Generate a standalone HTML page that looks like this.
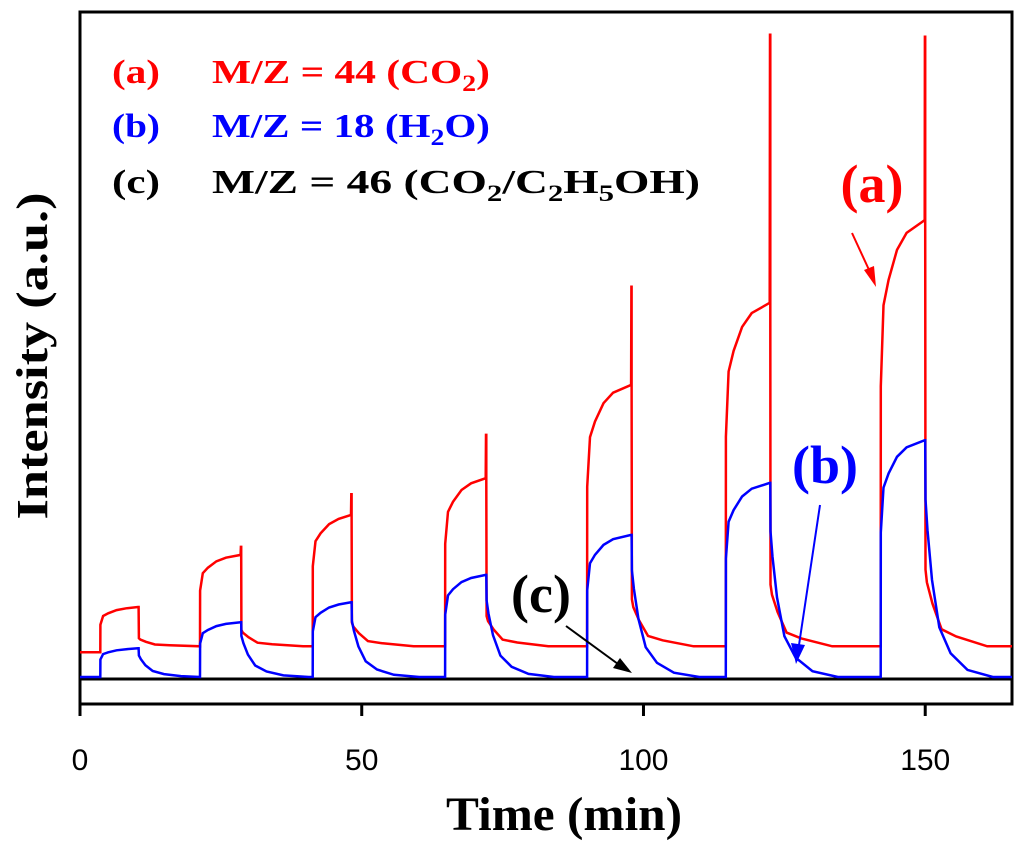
<!DOCTYPE html>
<html><head><meta charset="utf-8"><style>html,body{margin:0;padding:0;background:#fff}svg{display:block}</style></head>
<body>
<svg id="chart" width="1024" height="850" xmlns="http://www.w3.org/2000/svg">
<rect x="80" y="12" width="932" height="692" fill="none" stroke="#000" stroke-width="3"/>
<line x1="80" y1="704" x2="80" y2="716" stroke="#000" stroke-width="3"/>
<g id="ticks"></g>
<g id="series"></g>
<text transform="translate(47,356) rotate(-90)" text-anchor="middle" font-family="Liberation Serif, serif" font-weight="bold" font-size="44" textLength="327" lengthAdjust="spacingAndGlyphs">Intensity (a.u.)</text>
<text x="564" y="830" text-anchor="middle" font-family="Liberation Serif, serif" font-weight="bold" font-size="48" textLength="236" lengthAdjust="spacingAndGlyphs">Time (min)</text>
<g font-family="Liberation Serif, serif" font-weight="bold" font-size="34">
<text fill="#f00" x="112" y="83" textLength="48" lengthAdjust="spacingAndGlyphs">(a)</text>
<text fill="#f00" x="212" y="83" textLength="278" lengthAdjust="spacingAndGlyphs">M/Z = 44  (CO<tspan font-size="23" dy="8">2</tspan><tspan dy="-8">)</tspan></text>
<text fill="#00f" x="112" y="137" textLength="48" lengthAdjust="spacingAndGlyphs">(b)</text>
<text fill="#00f" x="212" y="137" textLength="278" lengthAdjust="spacingAndGlyphs">M/Z = 18  (H<tspan font-size="23" dy="8">2</tspan><tspan dy="-8">O)</tspan></text>
<text fill="#000" x="112" y="193" textLength="48" lengthAdjust="spacingAndGlyphs">(c)</text>
<text fill="#000" x="212" y="193" textLength="488" lengthAdjust="spacingAndGlyphs">M/Z = 46  (CO<tspan font-size="23" dy="8">2</tspan><tspan dy="-8">/C</tspan><tspan font-size="23" dy="8">2</tspan><tspan dy="-8">H</tspan><tspan font-size="23" dy="8">5</tspan><tspan dy="-8">OH)</tspan></text>
</g>
<g>
<text x="872" y="202" text-anchor="middle" font-family="Liberation Serif, serif" font-weight="bold" font-size="54" fill="#f00">(a)</text>
<line x1="852" y1="233" x2="870" y2="272" stroke="#f00" stroke-width="2"/>
<polygon points="876,287 864,270 874,266" fill="#f00"/>
</g>
<g>
<text x="825" y="483" text-anchor="middle" font-family="Liberation Serif, serif" font-weight="bold" font-size="54" fill="#00f">(b)</text>
<line x1="820" y1="505" x2="799" y2="645" stroke="#00f" stroke-width="2"/>
<polygon points="796,664 791,643 805,645" fill="#00f"/>
</g>
<g>
<text x="541" y="612" text-anchor="middle" font-family="Liberation Serif, serif" font-weight="bold" font-size="54" fill="#000">(c)</text>
<line x1="566" y1="626" x2="618" y2="664" stroke="#000" stroke-width="2"/>
<polygon points="632,673 613,668 620,658" fill="#000"/>
</g>
</svg>
<script>
// data (time in min, intensity in arbitrary units 0..100)
const xTicks = [0, 50, 100, 150];
const onTimes = [3.6, 21.3, 41.3, 64.8, 90.0, 114.6, 142.1];
const offTimes = [10.4, 28.6, 48.2, 72.1, 97.9, 122.5, 150.0];
const redPlateau = [10.8, 18.6, 24.6, 30.1, 44.1, 56.4, 68.8];
const redSpike = [10.8, 19.8, 27.7, 36.6, 58.8, 96.6, 96.3];
const bluePlateau = [4.6, 8.5, 11.5, 15.6, 21.6, 29.4, 35.8];
const redBaseStart = 4.0;
const redBase = 4.9;
const blueBase = 0.3;
const riseT = [0, 0.02, 0.5, 1.4, 2.9, 4.6, 1.0];
const riseF = [0, 0.61, 0.80, 0.86, 0.93, 0.97, 1.0];
const redDecayT = [0.05, 0.3, 1.3, 2.9, 5.5, 11];
const redDecayF = [0.18, 0.15, 0.10, 0.04, 0.023, 0.0];
const blueDecayT = [0.05, 0.4, 1.2, 2.5, 4.5, 7.5, 12];
const blueDecayF = [0.75, 0.62, 0.41, 0.21, 0.10, 0.03, 0.0];
const tMax = 165.4;

const X0 = 80, X1 = 1012, Y0 = 679, Y100 = 12;
function xs(t){ return X0 + (X1 - X0) * t / tMax; }
function ys(v){ return Y0 - (Y0 - Y100) * v / 100; }
const NS = 'http://www.w3.org/2000/svg';

const tg = document.getElementById('ticks');
xTicks.forEach(t => {
  const l = document.createElementNS(NS, 'line');
  
  
  l.setAttribute('x1', xs(t)); l.setAttribute('x2', xs(t));
  l.setAttribute('y1', 704); l.setAttribute('y2', 716);
  l.setAttribute('stroke', '#000'); l.setAttribute('stroke-width', 3);
  tg.appendChild(l);
  const tx = document.createElementNS(NS, 'text');
  
  
  tx.setAttribute('x', xs(t)); tx.setAttribute('y', 770);
  tx.setAttribute('text-anchor', 'middle');
  tx.setAttribute('font-family', 'Liberation Sans, sans-serif');
  tx.setAttribute('font-size', 30);
  tx.textContent = String(t);
  tg.appendChild(tx);
});

function buildPts(plateau, spike, base0, base, dT, dF) {
  const pts = [[0, base0]];
  for (let i = 0; i < onTimes.length; i++) {
    const b = i === 0 ? base0 : base;
    const on = onTimes[i], off = offTimes[i];
    const h = plateau[i] - b;
    pts.push([on, b]);
    for (let k = 1; k < riseT.length - 1; k++) pts.push([on + riseT[k], b + h * riseF[k]]);
    pts.push([off - 0.1, plateau[i]]);
    if (spike) { pts.push([off - 0.05, spike[i]]); pts.push([off, spike[i]]); }
    pts.push([off, plateau[i]]);
    const nextOn = i + 1 < onTimes.length ? onTimes[i + 1] : tMax;
    for (let k = 0; k < dT.length; k++) {
      const t = off + dT[k];
      if (t < nextOn) pts.push([t, base + h * dF[k]]);
    }
  }
  pts.push([tMax, base]);
  return pts;
}
function draw(pts, color, name, w) {
  const p = document.createElementNS(NS, 'polyline');
  
  
  p.setAttribute('points', pts.map(q => xs(q[0]).toFixed(1) + ',' + ys(q[1]).toFixed(1)).join(' '));
  p.setAttribute('fill', 'none'); p.setAttribute('stroke', color);
  p.setAttribute('stroke-width', w); p.setAttribute('stroke-linejoin', 'miter');
  document.getElementById('series').appendChild(p);
}
const sg = document.getElementById('series');
const c = document.createElementNS(NS, 'line');


c.setAttribute('x1', X0); c.setAttribute('x2', X1);
c.setAttribute('y1', ys(0)); c.setAttribute('y2', ys(0));
c.setAttribute('stroke', '#000'); c.setAttribute('stroke-width', 3);
sg.appendChild(c);
draw(buildPts(redPlateau, redSpike, redBaseStart, redBase, redDecayT, redDecayF), '#f00', 'series-a-line', 2.5);
draw(buildPts(bluePlateau, null, blueBase, blueBase, blueDecayT, blueDecayF), '#00f', 'series-b-line', 2.5);
</script>
</body></html>
